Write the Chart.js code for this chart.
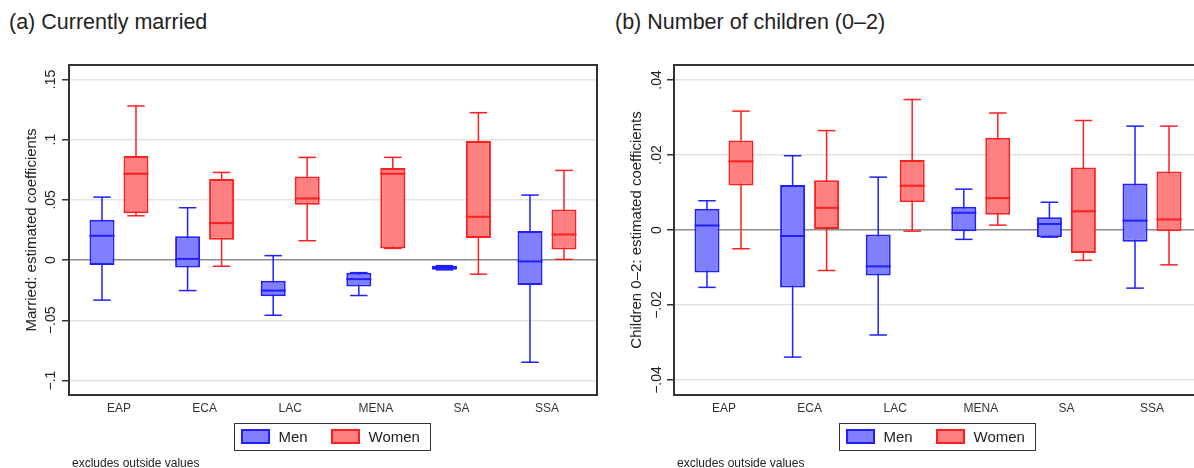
<!DOCTYPE html>
<html>
<head>
<meta charset="utf-8">
<script src="https://cdn.jsdelivr.net/npm/chart.js@4.4.1/dist/chart.umd.min.js"></script>
<style>
  html, body { margin: 0; padding: 0; background: #fff; overflow: hidden; width: 1194px; height: 468px; }
  body { position: relative; font-family: "Liberation Sans", Arial, sans-serif; color: #222; }
  canvas { position: absolute; top: 0; }
  #chartA { left: 0; }
  #chartB { left: 600px; }
  .title { position: absolute; top: 12px; font-size: 21.5px; line-height: 1; white-space: nowrap; }
  .note { position: absolute; top: 457px; font-size: 12px; line-height: 12px; white-space: nowrap; color: #222; }
  .legend { position: absolute; top: 423px; width: 195px; height: 26px; border: 1.5px solid #333; }
  .legend .sw { position: absolute; top: 5px; width: 29px; height: 15px; box-sizing: border-box; border: 2px solid; }
  .legend .lb { position: absolute; top: 0; line-height: 26px; font-size: 15px; }
</style>
</head>
<body>
<div class="title" style="left:9px">(a) Currently married</div>
<div class="title" style="left:615px">(b) Number of children (0–2)</div>
<canvas id="chartA" width="600" height="468"></canvas>
<canvas id="chartB" width="605" height="468"></canvas>
<div class="legend" id="legendA" style="left:234px"></div>
<div class="legend" id="legendB" style="left:839px"></div>
<div class="note" style="left:72px">excludes outside values</div>
<div class="note" style="left:677px">excludes outside values</div>
<script>
(function () {
    "use strict";

    const regions = ["EAP", "ECA", "LAC", "MENA", "SA", "SSA"];
    const seriesNames = ["Men", "Women"];

    // per region: [lower whisker, q1, median, q3, upper whisker]
    const marriedMen = [
        [-0.0332, -0.0040, 0.0202, 0.0335, 0.0523],
        [-0.0253, -0.0062, 0.0010, 0.0199, 0.0435],
        [-0.0458, -0.0300, -0.0253, -0.0172, 0.0037],
        [-0.0294, -0.0219, -0.0158, -0.0104, -0.0104],
        [-0.0081, -0.0081, -0.0063, -0.0046, -0.0046],
        [-0.0848, -0.0206, -0.0011, 0.0241, 0.0540],
    ];
    const marriedWomen = [
        [0.0368, 0.0390, 0.0717, 0.0864, 0.1280],
        [-0.0051, 0.0169, 0.0307, 0.0673, 0.0728],
        [0.0161, 0.0460, 0.0512, 0.0695, 0.0853],
        [0.0097, 0.0097, 0.0717, 0.0764, 0.0853],
        [-0.0117, 0.0183, 0.0360, 0.0988, 0.1224],
        [0.0006, 0.0089, 0.0213, 0.0421, 0.0745],
    ];
    const childrenMen = [
        [-0.0153, -0.0113, 0.0012, 0.0057, 0.0078],
        [-0.0339, -0.0153, -0.0016, 0.0120, 0.0198],
        [-0.0280, -0.0121, -0.0097, -0.0012, 0.0141],
        [-0.0025, -0.0003, 0.0046, 0.0062, 0.0109],
        [-0.0019, -0.0019, 0.0016, 0.0034, 0.0074],
        [-0.0155, -0.0031, 0.0025, 0.0124, 0.0277],
    ];
    const childrenWomen = [
        [-0.0050, 0.0119, 0.0183, 0.0239, 0.0317],
        [-0.0108, 0.0003, 0.0059, 0.0133, 0.0265],
        [-0.0003, 0.0074, 0.0118, 0.0187, 0.0348],
        [0.0013, 0.0041, 0.0085, 0.0246, 0.0312],
        [-0.0081, -0.0061, 0.0050, 0.0167, 0.0292],
        [-0.0093, -0.0003, 0.0028, 0.0156, 0.0277],
    ];

    const marriedTicks = [-0.1, -0.05, 0, 0.05, 0.1, 0.15];
    const marriedTickLabels = ["−.1", "−.05", "0", ".05", ".1", ".15"];
    const childrenTicks = [-0.04, -0.02, 0, 0.02, 0.04];
    const childrenTickLabels = ["−.04", "−.02", "0", ".02", ".04"];

    const family = '"Liberation Sans", Arial, sans-serif';
    const palette = {
        Men: { fill: "#8080ff", line: "#1f1fff" },
        Women: { fill: "#ff8080", line: "#ff1f1f" },
    };

    // medians and whisker caps, placed on the box bars
    const boxDetails = {
        id: "boxDetails",
        afterDatasetsDraw(chart) {
            const ctx = chart.ctx;
            const y = chart.scales.y;
            chart.data.datasets.forEach((ds, di) => {
                if (!ds.stats) return;
                const meta = chart.getDatasetMeta(di);
                ctx.save();
                ctx.strokeStyle = ds.borderColor;
                meta.data.forEach((bar, i) => {
                    const s = ds.stats[i];
                    const half = bar.width / 2;
                    const cap = bar.width * 0.35;
                    ctx.lineWidth = 2;
                    ctx.beginPath();
                    ctx.moveTo(bar.x - half, y.getPixelForValue(s[2]));
                    ctx.lineTo(bar.x + half, y.getPixelForValue(s[2]));
                    ctx.stroke();
                    ctx.lineWidth = 1.5;
                    [s[0], s[4]].forEach((v) => {
                        const py = y.getPixelForValue(v);
                        ctx.beginPath();
                        ctx.moveTo(bar.x - cap, py);
                        ctx.lineTo(bar.x + cap, py);
                        ctx.stroke();
                    });
                });
                ctx.restore();
            });
        },
    };

    function makeChart(id, cfg) {
        const frame = {
            id: "frame",
            afterDraw(chart) {
                const { ctx, chartArea: a } = chart;
                const y = chart.scales.y;
                ctx.save();
                ctx.strokeStyle = "#333";
                ctx.lineWidth = 2;
                ctx.strokeRect(a.left, a.top, a.right - a.left, a.bottom - a.top);
                // vertical tick labels, as Stata draws them
                ctx.fillStyle = "#222";
                ctx.font = "14px " + family;
                ctx.textAlign = "center";
                ctx.textBaseline = "alphabetic";
                cfg.ticks.forEach((v, i) => {
                    ctx.save();
                    ctx.translate(a.left - cfg.labelGap, y.getPixelForValue(v));
                    ctx.rotate(-Math.PI / 2);
                    ctx.fillText(cfg.tickLabels[i], 0, 0);
                    ctx.restore();
                });
                ctx.restore();
            },
        };

        const series = [cfg.men, cfg.women];
        const boxes = series.map((stats, k) => ({
            label: seriesNames[k],
            stack: seriesNames[k],
            order: k,
            stats: stats,
            data: stats.map((s, i) => ({ x: i, y: [s[1], s[3]] })),
            backgroundColor: palette[seriesNames[k]].fill,
            borderColor: palette[seriesNames[k]].line,
            borderWidth: 2,
            borderSkipped: false,
        }));
        const whiskers = series.map((stats, k) => ({
            label: seriesNames[k] + " range",
            stack: seriesNames[k],
            order: k + 2,
            data: stats.map((s, i) => ({ x: i, y: [s[0], s[4]] })),
            backgroundColor: palette[seriesNames[k]].line,
            borderWidth: 0,
            maxBarThickness: 1.5,
        }));

        const xPad = 0.584;
        return new Chart(document.getElementById(id), {
            type: "bar",
            data: { datasets: boxes.concat(whiskers) },
            options: {
                responsive: false,
                animation: false,
                devicePixelRatio: 1,
                layout: { padding: { left: 0, right: 3, top: 65, bottom: 0 } },
                datasets: {
                    bar: { categoryPercentage: 0.794, barPercentage: 0.735 },
                },
                plugins: {
                    legend: { display: false },
                    tooltip: { enabled: false },
                },
                scales: {
                    x: {
                        type: "linear",
                        offset: false,
                        min: -xPad,
                        max: regions.length - 1 + xPad,
                        afterBuildTicks: (s) => {
                            s.ticks = regions.map((r, i) => ({ value: i }));
                        },
                        ticks: {
                            callback: (v) => regions[v],
                            autoSkip: false,
                            maxRotation: 0,
                            padding: 6,
                            color: "#333",
                            font: { size: 12, family: family },
                        },
                        grid: { display: false, drawTicks: false },
                        border: { display: false },
                        afterFit: (s) => {
                            s.height = 73;
                        },
                    },
                    y: {
                        min: cfg.yMin,
                        max: cfg.yMax,
                        stacked: false,
                        afterBuildTicks: (s) => {
                            s.ticks = cfg.ticks.map((v) => ({ value: v }));
                        },
                        ticks: { display: false },
                        grid: {
                            color: (c) => (c.tick && c.tick.value === 0 ? "#8c8c8c" : "#e3e3e3"),
                            lineWidth: 1.5,
                            tickColor: "#333",
                            tickLength: 7,
                            tickWidth: 1.5,
                        },
                        border: { display: false },
                        title: {
                            display: true,
                            text: cfg.yTitle,
                            color: "#222",
                            font: { size: 15, family: family },
                            padding: { top: cfg.axisWidth - 46, bottom: 0 },
                        },
                        afterFit: (s) => {
                            s.width = cfg.axisWidth;
                        },
                    },
                },
            },
            plugins: [boxDetails, frame],
        });
    }

    function makeLegend(id) {
        const el = document.getElementById(id);
        const swatchLeft = [6, 95.5];
        const labelLeft = [43.5, 133.5];
        seriesNames.forEach((name, k) => {
            const sw = document.createElement("div");
            sw.className = "sw";
            sw.style.left = swatchLeft[k] + "px";
            sw.style.background = palette[name].fill;
            sw.style.borderColor = palette[name].line;
            el.appendChild(sw);
            const lb = document.createElement("div");
            lb.className = "lb";
            lb.style.left = labelLeft[k] + "px";
            lb.textContent = name;
            el.appendChild(lb);
        });
    }

    makeChart("chartA", {
        men: marriedMen,
        women: marriedWomen,
        ticks: marriedTicks,
        tickLabels: marriedTickLabels,
        yMin: -0.112,
        yMax: 0.162,
        yTitle: "Married: estimated coefficients",
        axisWidth: 69,
        labelGap: 14,
    });
    makeChart("chartB", {
        men: childrenMen,
        women: childrenWomen,
        ticks: childrenTicks,
        tickLabels: childrenTickLabels,
        yMin: -0.044,
        yMax: 0.044,
        yTitle: "Children 0–2: estimated coefficients",
        axisWidth: 74,
        labelGap: 13,
    });
    makeLegend("legendA");
    makeLegend("legendB");
})();
</script>
</body>
</html>
